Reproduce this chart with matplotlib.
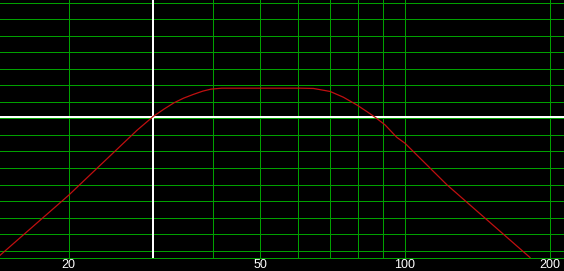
import numpy as np
import matplotlib
matplotlib.use("Agg")
import matplotlib.pyplot as plt

# frequenz (Hz) og nivå (dB)
freq = [14.4, 20, 27.75, 29.98, 31.62, 33.1, 34.66, 36.31, 38.0, 39.5, 41.6,
        43.3, 50, 55, 60.55, 64.53, 69.9, 74.46, 79.4, 83.3, 86.64, 90.9,
        96.1, 100, 122.1, 181.8]
level = [-24.87, -13.96, -2.15, 0.35, 1.73, 2.82, 3.67, 4.35, 4.95, 5.31, 5.49,
         5.49, 5.49, 5.49, 5.49, 5.44, 4.89, 3.85, 2.45, 1.25, 0.22, -1.18,
         -3.42, -4.51, -12.02, -25.24]

grid_freq = [20, 30, 40, 50, 60, 70, 80, 90, 100, 200]
label_freq = [20, 50, 100, 200]
grid_db = list(range(-24, 22, 3))

cursor_freq = 30
cursor_db = 0.27

fig = plt.figure(figsize=(5.64, 2.71), dpi=100, facecolor="black")
ax = fig.add_axes([0, 13 / 271, 1, 258 / 271])
ax.set_facecolor("black")

ax.set_xscale("log")
ax.set_xlim(14.41, 213.9)
ax.set_ylim(-25.33, 21.49)

ax.set_xticks(grid_freq)
ax.set_xticklabels([str(f) if f in label_freq else "" for f in grid_freq])
ax.xaxis.set_minor_locator(matplotlib.ticker.NullLocator())
ax.set_yticks(grid_db)
ax.set_yticklabels([])
ax.tick_params(axis="both", length=0, pad=0.5, colors="white", labelsize=9)
for lab in ax.get_xticklabels():
    lab.set_family(["Liberation Sans Narrow", "Liberation Sans", "DejaVu Sans"])

# rutenett
ax.vlines(grid_freq, -25.33, 21.49, colors="#00a000", linewidth=0.72,
          antialiaseds=False, zorder=1)
ax.hlines(grid_db, 14.41, 213.9, colors="#00a000", linewidth=0.72,
          antialiaseds=False, zorder=1)

for s in ["top", "left", "right"]:
    ax.spines[s].set_visible(False)
ax.spines["bottom"].set_color("#00a000")
ax.spines["bottom"].set_linewidth(0.72)
ax.spines["bottom"].set_antialiased(False)

# markør
ax.axvline(cursor_freq, color="white", linewidth=1.44, zorder=3, antialiased=False)
ax.axhline(cursor_db, color="white", linewidth=1.44, zorder=3, antialiased=False)

ax.plot(freq, level, color="#c01010", linewidth=0.9, zorder=4)

fig.savefig("out.png", dpi=100, facecolor="black")
